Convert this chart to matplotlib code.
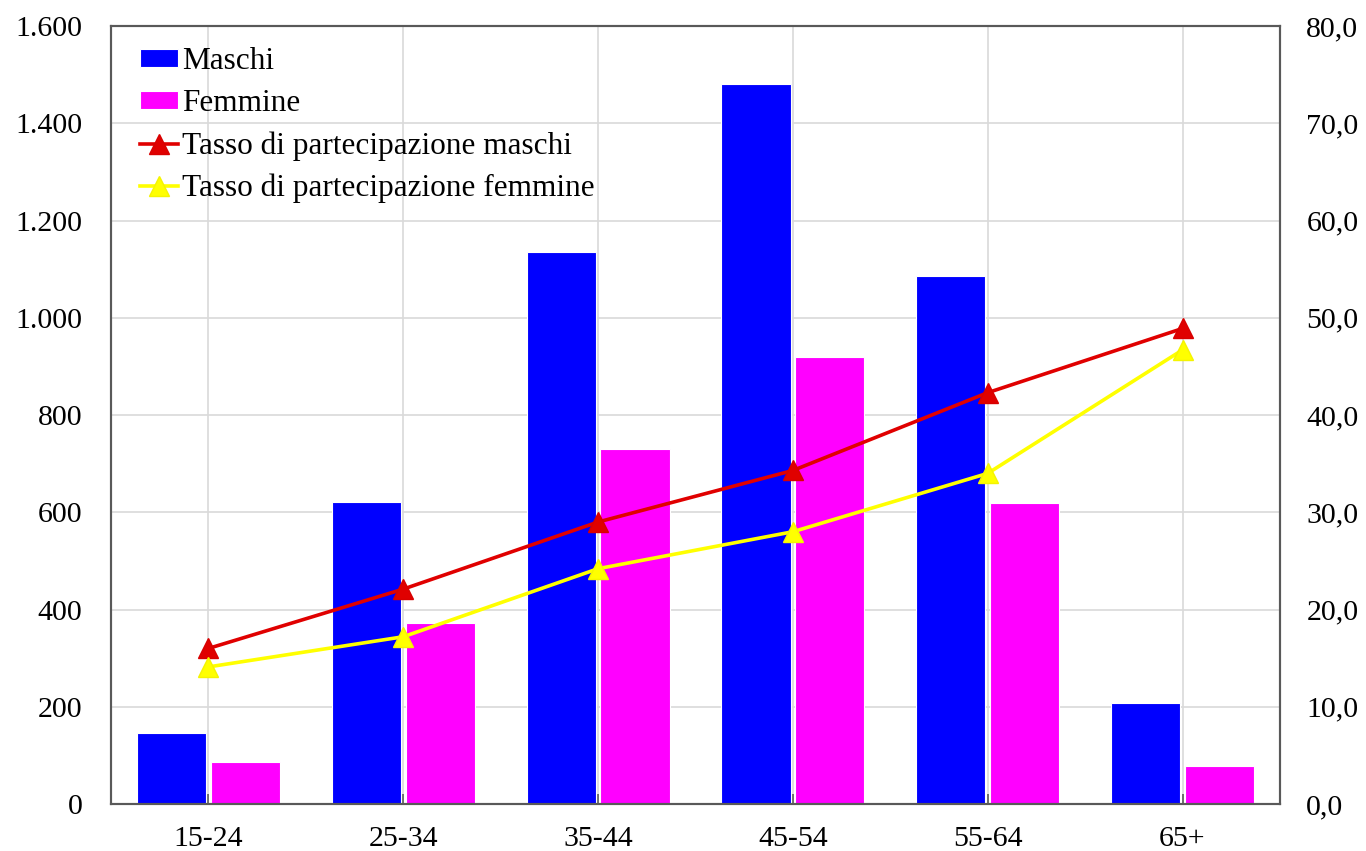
import matplotlib
matplotlib.use("Agg")
import matplotlib.pyplot as plt
from matplotlib.ticker import FuncFormatter
import numpy as np

plt.rcParams['font.family'] = ['Liberation Serif', 'DejaVu Serif']

categories = ["15-24", "25-34", "35-44", "45-54", "55-64", "65+"]
maschi = [146, 621, 1135, 1481, 1086, 207]
femmine = [87, 372, 731, 919, 619, 79]
tasso_maschi = [16.0, 22.1, 29.0, 34.3, 42.3, 48.9]
tasso_femmine = [14.1, 17.2, 24.2, 28.0, 34.0, 46.7]

fig = plt.figure(figsize=(13.66, 8.51), dpi=100)
ax = fig.add_axes([0.0813, 0.0552, 0.8557, 0.9142])
ax2 = ax.twinx()

x = np.arange(len(categories))
w = 0.355
ax.bar(x - w / 2 - 0.012, maschi, w, color='#0000ff', edgecolor='white', linewidth=0.8,
       label='Maschi', zorder=2)
ax.bar(x + w / 2 + 0.012, femmine, w, color='#ff00ff', edgecolor='white', linewidth=0.8,
       label='Femmine', zorder=2)

ax2.plot(x, tasso_maschi, color='#e00000', lw=2.6, marker='^', ms=15,
         mec='#d80000', mfc='#e00000', label='Tasso di partecipazione maschi', zorder=3)
ax2.plot(x, tasso_femmine, color='#ffff00', lw=2.6, marker='^', ms=15,
         mec='#f4f400', mfc='#ffff00', label='Tasso di partecipazione femmine', zorder=3)

ax.set_xlim(-0.5, len(categories) - 0.5)
ax.set_ylim(0, 1600)
ax.set_yticks(np.arange(0, 1601, 200))
ax2.set_ylim(0, 80)
ax2.set_yticks(np.arange(0, 81, 10))

ax.yaxis.set_major_formatter(FuncFormatter(lambda v, p: f"{int(v):,}".replace(",", ".")))
ax2.yaxis.set_major_formatter(FuncFormatter(lambda v, p: f"{v:.1f}".replace(".", ",")))

ax.set_xticks(x)
ax.set_xticklabels(categories)

ax.grid(True, color='#d9d9d9', lw=1.2, zorder=0)
ax.set_axisbelow(True)

for a in (ax, ax2):
    for s in a.spines.values():
        s.set_color('#595959')
        s.set_linewidth(1.5)

ax.tick_params(axis='x', direction='in', length=7, width=1.2, color='#595959',
               labelsize=21.5, pad=15.5)
ax.tick_params(axis='y', length=0, labelsize=21.5, pad=20.5)
ax2.tick_params(axis='y', length=0, labelsize=21.5, pad=19)

h1, l1 = ax.get_legend_handles_labels()
h2, l2 = ax2.get_legend_handles_labels()
leg = ax2.legend(h1 + h2, l1 + l2, loc='upper left', bbox_to_anchor=(0.025, 0.973),
                 frameon=False, fontsize=22.5, handlelength=1.2, handleheight=0.5,
                 handletextpad=0.15, labelspacing=0.42, borderpad=0, borderaxespad=0)
leg.set_zorder(5)

fig.savefig('out.png', dpi=100, facecolor='white')
